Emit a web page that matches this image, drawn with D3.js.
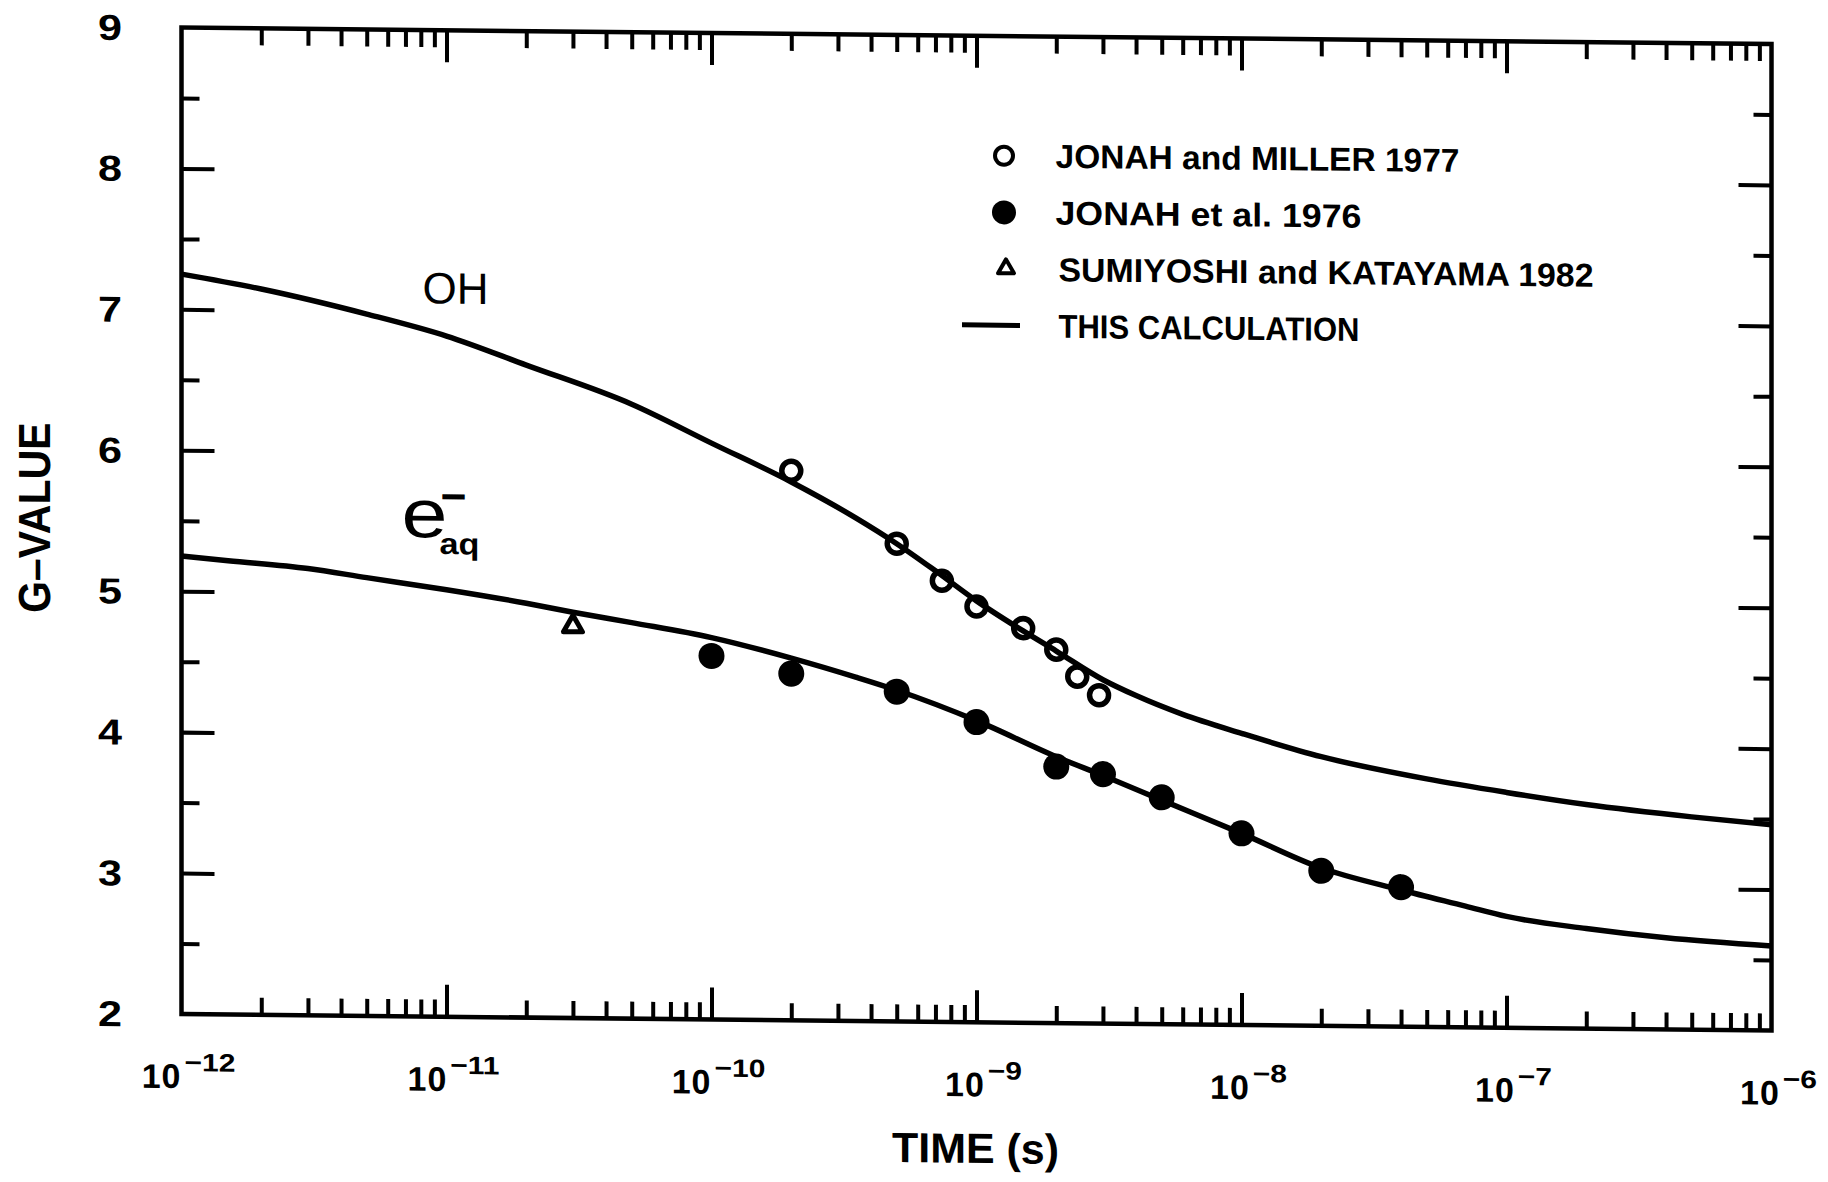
<!DOCTYPE html>
<html><head><meta charset="utf-8">
<script src="https://cdn.jsdelivr.net/npm/d3@7"></script>
<style>
html,body{margin:0;padding:0;background:#fff;}
svg{display:block;}
text{font-family:"Liberation Sans", Arial, Helvetica, sans-serif;fill:#000;}
</style></head><body>
<svg id="chart" width="1828" height="1182"></svg>
<script>
// ---------------- data ----------------
const ohCurveT  = [1e-12,2e-12,5e-12,1e-11,2e-11,5e-11,1e-10,2e-10,3.5e-10,5e-10,7e-10,1e-9,1.5e-9,2e-9,3e-9,4e-9,6e-9,1e-8,2e-8,5e-8,1e-7,2e-7,5e-7,1e-6];
const ohCurveG  = [7.25,7.15,6.98,6.83,6.63,6.36,6.09,5.82,5.57,5.39,5.20,4.99,4.78,4.64,4.44,4.33,4.20,4.07,3.91,3.76,3.67,3.59,3.51,3.46];
const eaqCurveT = [1e-12,1.5e-12,3e-12,5e-12,1e-11,2e-11,3e-11,5e-11,1e-10,2e-10,3.5e-10,5e-10,1e-9,2e-9,3e-9,5e-9,1e-8,2e-8,4e-8,7e-8,1e-7,2e-7,4e-7,1e-6];
const eaqCurveG = [5.25,5.22,5.17,5.11,5.03,4.94,4.88,4.81,4.71,4.57,4.44,4.35,4.14,3.89,3.76,3.59,3.36,3.12,2.97,2.86,2.79,2.71,2.65,2.60];
const jonahMillerT = [2e-10,5e-10,7.4e-10,1e-9,1.5e-9,2e-9,2.4e-9,2.9e-9];
const jonahMillerG = [5.90,5.39,5.13,4.95,4.80,4.65,4.46,4.33];
const jonah1976T = [1e-10,2e-10,5e-10,1e-9,2e-9,3e-9,5e-9,1e-8,2e-8,4e-8];
const jonah1976G = [4.58,4.46,4.34,4.13,3.82,3.77,3.61,3.36,3.10,2.99];
const sumiyoshiT = [3e-11];
const sumiyoshiG = [4.78];
const yTickLabels = ["2","3","4","5","6","7","8","9"];
const xTickExponents = ["−12","−11","−10","−9","−8","−7","−6"];
const legendLabels = ["JONAH and MILLER 1977","JONAH et al. 1976","SUMIYOSHI and KATAYAMA 1982","THIS CALCULATION"];

// ---------------- layout ----------------
const W = 1590, H = 985;
const legendTextLen = [404, 306, 535, 301];
const svg = d3.select("#chart");
const g = svg.append("g").attr("transform", "matrix(1,0.0104,0,1.0015,181.5,27.5)");

const x = d3.scaleLog().domain([1e-12, 1e-6]).range([0, W]);
const y = d3.scaleLinear().domain([2, 9]).range([H, 0]);

// ---------------- ticks ----------------
const allX = x.ticks();
const isMajor = t => Math.abs(Math.log10(t) - Math.round(Math.log10(t))) < 1e-6;
const majorX = allX.filter(t => isMajor(t) && t > 1.5e-12 && t < 0.9e-6);
const minorX = allX.filter(t => !isMajor(t));
const yMajor = yTickLabels.map(Number).filter(v => v > 2 && v < 9);
const yMinor = yTickLabels.map(Number).slice(0, -1).map(v => v + 0.5);

function tickAxis(axisFn, scale, values, size, transform) {
  g.append("g").attr("transform", transform)
    .call(axisFn(scale).tickValues(values).tickSize(size).tickFormat(""))
    .call(s => s.select(".domain").remove())
    .call(s => s.selectAll(".tick text").remove())
    .call(s => s.selectAll("line").attr("stroke", "#000").attr("stroke-width", 4));
}
tickAxis(d3.axisTop, x, majorX, 32, `translate(0,${H})`);
tickAxis(d3.axisTop, x, minorX, 17, `translate(0,${H})`);
tickAxis(d3.axisBottom, x, majorX, 32, "translate(0,0)");
tickAxis(d3.axisBottom, x, minorX, 17, "translate(0,0)");
tickAxis(d3.axisRight, y, yMajor, 33, "translate(0,0)");
tickAxis(d3.axisRight, y, yMinor, 18, "translate(0,0)");
tickAxis(d3.axisLeft, y, yMajor, 33, `translate(${W},0)`);
tickAxis(d3.axisLeft, y, yMinor, 18, `translate(${W},0)`);

// frame
g.append("rect").attr("width", W).attr("height", H)
  .attr("fill", "none").attr("stroke", "#000").attr("stroke-width", 4.5);

// ---------------- curves ----------------
const line = d3.line().x(d => x(d[0])).y(d => y(d[1])).curve(d3.curveMonotoneX);
[[ohCurveT, ohCurveG], [eaqCurveT, eaqCurveG]].forEach(([T, G]) => {
  g.append("path").datum(d3.zip(T, G)).attr("d", line)
    .attr("fill", "none").attr("stroke", "#000").attr("stroke-width", 5.5)
    .attr("stroke-linejoin", "round");
});

// ---------------- markers ----------------
g.selectAll(".jm").data(d3.zip(jonahMillerT, jonahMillerG)).join("circle")
  .attr("cx", d => x(d[0])).attr("cy", d => y(d[1])).attr("r", 9.5)
  .attr("fill", "none").attr("stroke", "#000").attr("stroke-width", 5.5);
g.selectAll(".j76").data(d3.zip(jonah1976T, jonah1976G)).join("circle")
  .attr("cx", d => x(d[0])).attr("cy", d => y(d[1])).attr("r", 13).attr("fill", "#000");
const triSize = s => s * s * Math.sqrt(3) / 4;
g.selectAll(".sk").data(d3.zip(sumiyoshiT, sumiyoshiG)).join("path")
  .attr("transform", d => `translate(${x(d[0])},${y(d[1])})`)
  .attr("d", d3.symbol(d3.symbolTriangle, triSize(19)))
  .attr("fill", "none").attr("stroke", "#000").attr("stroke-width", 5).attr("stroke-linejoin", "round");

// ---------------- y tick labels ----------------
g.selectAll(".ylab").data(yTickLabels).join("text")
  .attr("x", -71.5).attr("y", d => y(+d) + 13)
  .attr("text-anchor", "middle").attr("font-size", 36).attr("font-weight", "bold")
  .attr("textLength", 24).attr("lengthAdjust", "spacingAndGlyphs")
  .text(d => d);

// ---------------- x tick labels ----------------
xTickExponents.forEach(lbl => {
  const t = Math.pow(10, +lbl.replace("−", "-"));
  const base = g.append("text").attr("font-size", 34).attr("font-weight", "bold")
    .attr("letter-spacing", 1).text("10");
  const ex = g.append("text").attr("font-size", 25).attr("font-weight", "bold").text(lbl);
  const bw = base.node().getComputedTextLength();
  const ew = ex.node().getComputedTextLength() * 1.2;
  ex.attr("textLength", ew).attr("lengthAdjust", "spacingAndGlyphs");
  const total = bw + 3 + ew;
  const x0 = x(t) + 7 - total / 2;
  base.attr("x", x0).attr("y", 1059);
  ex.attr("x", x0 + bw + 3).attr("y", 1042);
});

// axis titles
g.append("text").attr("x", 794).attr("y", 1125.5).attr("text-anchor", "middle")
  .attr("font-size", 42).attr("font-weight", "bold")
  .attr("textLength", 167).attr("lengthAdjust", "spacingAndGlyphs").text("TIME (s)");
g.append("text").attr("transform", "translate(-131.5,491) rotate(-90)")
  .attr("text-anchor", "middle").attr("font-size", 45).attr("font-weight", "bold")
  .attr("textLength", 190).attr("lengthAdjust", "spacingAndGlyphs").text("G–VALUE");

// curve labels
g.append("text").attr("x", 241).attr("y", 272.9).attr("font-size", 44).text("OH");
g.append("text").attr("x", 220).attr("y", 506.4).attr("font-size", 68)
  .attr("textLength", 46).attr("lengthAdjust", "spacingAndGlyphs").text("e");
g.append("text").attr("x", 258).attr("y", 523).attr("font-size", 30).attr("font-weight", "bold")
  .attr("textLength", 40).attr("lengthAdjust", "spacingAndGlyphs").text("aq");
g.append("text").attr("x", 259).attr("y", 481).attr("font-size", 46).attr("font-weight", "bold")
  .attr("textLength", 26).attr("lengthAdjust", "spacingAndGlyphs").text("−");

// ---------------- legend ----------------
const legBase = i => 131 + i * 56.6;
const lg = g.append("g");
lg.append("circle").attr("cx", 822.5).attr("cy", legBase(0) - 11.5).attr("r", 9)
  .attr("fill", "none").attr("stroke", "#000").attr("stroke-width", 4);
lg.append("circle").attr("cx", 822.5).attr("cy", legBase(1) - 11.5).attr("r", 12).attr("fill", "#000");
lg.append("path").attr("transform", `translate(824.5,${legBase(2) - 12})`)
  .attr("d", d3.symbol(d3.symbolTriangle, triSize(16)))
  .attr("fill", "none").attr("stroke", "#000").attr("stroke-width", 4).attr("stroke-linejoin", "round");
lg.append("line").attr("x1", 780.5).attr("x2", 838.5)
  .attr("y1", legBase(3) - 12).attr("y2", legBase(3) - 12)
  .attr("stroke", "#000").attr("stroke-width", 5);
lg.selectAll("text").data(legendLabels).join("text")
  .attr("x", (d, i) => i < 2 ? 874 : 877).attr("y", (d, i) => legBase(i))
  .attr("font-size", 33).attr("font-weight", "bold")
  .attr("textLength", (d, i) => legendTextLen[i]).attr("lengthAdjust", "spacingAndGlyphs")
  .text(d => d);
</script>
</body></html>
